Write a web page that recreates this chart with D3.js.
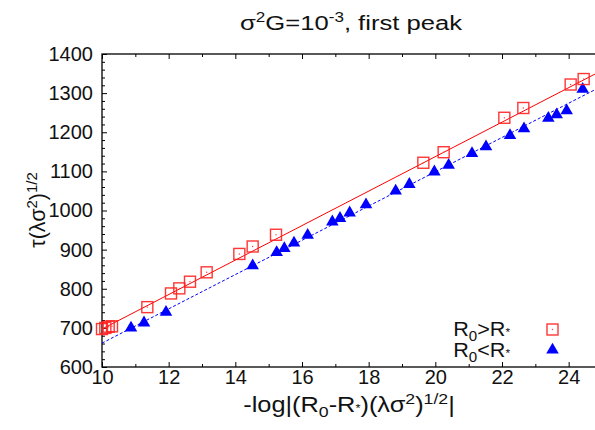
<!DOCTYPE html>
<html>
<head>
<meta charset="utf-8">
<script src="https://cdn.jsdelivr.net/npm/d3@7"></script>
<style>
  html, body { margin: 0; padding: 0; background: #fff; }
  svg { display: block; font-family: "Liberation Sans", Arial, sans-serif; }
</style>
</head>
<body>
<svg id="chart" width="595" height="430"></svg>
<script>
// ---- data ----
const redX = [10.0, 10.1, 10.2, 10.3, 11.36, 12.07, 12.32, 12.64, 13.14, 14.12, 14.52, 15.22, 19.64, 20.25, 22.07, 22.64, 24.06, 24.45];
const redY = [697, 700, 703, 704, 753, 788, 801, 818, 842, 889, 908, 938, 1122, 1149, 1237, 1262, 1322, 1336];

const blueX = [10.87, 11.26, 11.92, 14.52, 15.24, 15.47, 15.76, 16.17, 16.91, 17.14, 17.43, 17.92, 18.81, 19.22, 19.97, 20.40, 21.10, 21.52, 22.24, 22.66, 23.39, 23.64, 23.94, 24.42];
const blueY = [700, 713, 740, 859, 893, 903, 917, 937, 971, 980, 994, 1015, 1050, 1067, 1099, 1116, 1146, 1163, 1192, 1209, 1236, 1245, 1255, 1310];

// fitted lines (endpoints)
const redFitX = [10, 25];
const redFitY = [697, 1358];
const blueFitX = [10, 25];
const blueFitY = [661, 1318];

const xMajorTicks = [10, 12, 14, 16, 18, 20, 22, 24];
const xMinorTicks = [11, 13, 15, 17, 19, 21, 23, 25];
const yMajorTicks = [600, 700, 800, 900, 1000, 1100, 1200, 1300, 1400];
const yMinorTicks = d3.range(600, 1401, 20).filter(v => v % 100 !== 0);

const legendLabels = [["R", "0", ">R", "*"], ["R", "0", "<R", "*"]];

// ---- layout ----
const svg = d3.select("#chart");
const L = 102, R = 602, T = 54, B = 367;
const x = d3.scaleLinear().domain([10, 25]).range([L, R]);
const y = d3.scaleLinear().domain([600, 1400]).range([B, T]);
const tickFont = 20;

svg.append("defs").append("clipPath").attr("id", "plotclip")
  .append("rect").attr("x", L).attr("y", T).attr("width", R - L).attr("height", B - T);

function styleAxis(g) {
  g.select(".domain").remove();
  g.selectAll("line").attr("stroke", "#000").attr("stroke-width", 1);
  g.selectAll("text").attr("font-size", tickFont).attr("fill", "#111")
    .attr("font-family", "'Liberation Sans', Arial, sans-serif");
}

// bottom axis
svg.append("g").attr("transform", `translate(0,${B})`)
  .call(d3.axisBottom(x).tickValues(xMajorTicks).tickFormat(d3.format("d")).tickSize(-5).tickPadding(3))
  .call(styleAxis);
svg.append("g").attr("transform", `translate(0,${B})`)
  .call(d3.axisBottom(x).tickValues(xMinorTicks).tickFormat("").tickSize(-3))
  .call(styleAxis);
// top axis
svg.append("g").attr("transform", `translate(0,${T})`)
  .call(d3.axisTop(x).tickValues(xMajorTicks).tickFormat("").tickSize(-5))
  .call(styleAxis);
svg.append("g").attr("transform", `translate(0,${T})`)
  .call(d3.axisTop(x).tickValues(xMinorTicks).tickFormat("").tickSize(-3))
  .call(styleAxis);
// left axis
svg.append("g").attr("transform", `translate(${L},0)`)
  .call(d3.axisLeft(y).tickValues(yMajorTicks).tickFormat(d3.format("d")).tickSize(-5).tickPadding(9))
  .call(styleAxis);
svg.append("g").attr("transform", `translate(${L},0)`)
  .call(d3.axisLeft(y).tickValues(yMinorTicks).tickFormat("").tickSize(-3))
  .call(styleAxis);
// right axis (mostly off-screen)
svg.append("g").attr("transform", `translate(${R},0)`)
  .call(d3.axisRight(y).tickValues(yMajorTicks).tickFormat("").tickSize(-5))
  .call(styleAxis);

// frame
svg.append("rect").attr("x", L).attr("y", T).attr("width", R - L).attr("height", B - T)
  .attr("fill", "none").attr("stroke", "#000").attr("stroke-width", 1.3);

// ---- fit lines ----
const line = d3.line().x(d => x(d[0])).y(d => y(d[1]));
const plot = svg.append("g").attr("clip-path", "url(#plotclip)");
plot.append("path").datum(redFitX.map((v, i) => [v, redFitY[i]]))
  .attr("d", line).attr("fill", "none").attr("stroke", "#ff0000").attr("stroke-width", 1);
plot.append("path").datum(blueFitX.map((v, i) => [v, blueFitY[i]]))
  .attr("d", line).attr("fill", "none").attr("stroke", "#0000ff").attr("stroke-width", 1)
  .attr("stroke-dasharray", "3,2");

// ---- points ----
const sq = 11;
const redData = redX.map((v, i) => [v, redY[i]]);
const blueData = blueX.map((v, i) => [v, blueY[i]]);
const tri = d3.symbol().type(d3.symbolTriangle).size(68);

const gBlue = svg.append("g");
gBlue.selectAll("path").data(blueData).enter().append("path")
  .attr("d", tri).attr("transform", d => `translate(${x(d[0])},${y(d[1])})`)
  .attr("fill", "#0000ff");

const gRed = svg.append("g");
gRed.selectAll("rect").data(redData).enter().append("rect")
  .attr("x", d => x(d[0]) - sq / 2).attr("y", d => y(d[1]) - sq / 2)
  .attr("width", sq).attr("height", sq)
  .attr("fill", "none").attr("stroke", "#ff2020").attr("stroke-width", 1.4).attr("stroke-opacity", 0.9);
gRed.selectAll("circle").data(redData).enter().append("circle")
  .attr("cx", d => x(d[0])).attr("cy", d => y(d[1])).attr("r", 0.7)
  .attr("fill", "#ff4040");

// helper: horizontally stretched text anchored at (cx, cy)
function stretchedText(cx, cy, sx, anchor, size) {
  return svg.append("g").attr("transform", `translate(${cx},${cy}) scale(${sx},1)`)
    .append("text").attr("x", 0).attr("y", 0).attr("text-anchor", anchor)
    .attr("font-size", size).attr("fill", "#111");
}

// ---- legend ----
const legY = [335.5, 356.5];
legendLabels.forEach((parts, i) => {
  const t = stretchedText(510, legY[i], 1.08, "end", 20);
  t.append("tspan").text(parts[0]);
  t.append("tspan").attr("font-size", 14).attr("dy", 5).text(parts[1]);
  t.append("tspan").attr("dy", -5).text(parts[2]);
  t.append("tspan").attr("font-size", 11).text(parts[3]);
});
svg.append("rect").attr("x", 552.5 - sq / 2).attr("y", 329.5 - sq / 2).attr("width", sq).attr("height", sq)
  .attr("fill", "none").attr("stroke", "#ff2020").attr("stroke-width", 1.4).attr("stroke-opacity", 0.9);
svg.append("circle").attr("cx", 552.5).attr("cy", 329.5).attr("r", 0.7).attr("fill", "#ff4040");
svg.append("path").attr("d", tri).attr("transform", "translate(552.5,350)").attr("fill", "#0000ff");

// ---- title ----
const title = stretchedText(351, 30, 1.22, "middle", 21);
title.append("tspan").text("σ");
title.append("tspan").attr("font-size", 14).attr("dy", -8).text("2");
title.append("tspan").attr("dy", 8).text("G=10");
title.append("tspan").attr("font-size", 14).attr("dy", -8).text("-3");
title.append("tspan").attr("dy", 8).text(", first peak");

// ---- x label ----
const xl = stretchedText(349, 412, 1.18, "middle", 21.5);
xl.append("tspan").text("-log|(R");
xl.append("tspan").attr("font-size", 15).attr("dy", 5).text("0");
xl.append("tspan").attr("dy", -5).text("-R");
xl.append("tspan").attr("font-size", 11).text("*");
xl.append("tspan").text(")(λσ");
xl.append("tspan").attr("font-size", 15).attr("dy", -8).text("2");
xl.append("tspan").attr("dy", 8).text(")");
xl.append("tspan").attr("font-size", 15).attr("dy", -8).text("1/2");
xl.append("tspan").attr("dy", 8).text("|");

// ---- y label ----
const yl = svg.append("text").attr("transform", "translate(45,210) rotate(-90)")
  .attr("text-anchor", "middle").attr("font-size", 21.5).attr("fill", "#111");
yl.append("tspan").text("τ(λσ");
yl.append("tspan").attr("font-size", 15).attr("dy", -8).text("2");
yl.append("tspan").attr("dy", 8).text(")");
yl.append("tspan").attr("font-size", 15).attr("dy", -8).text("1/2");
</script>
</body>
</html>
